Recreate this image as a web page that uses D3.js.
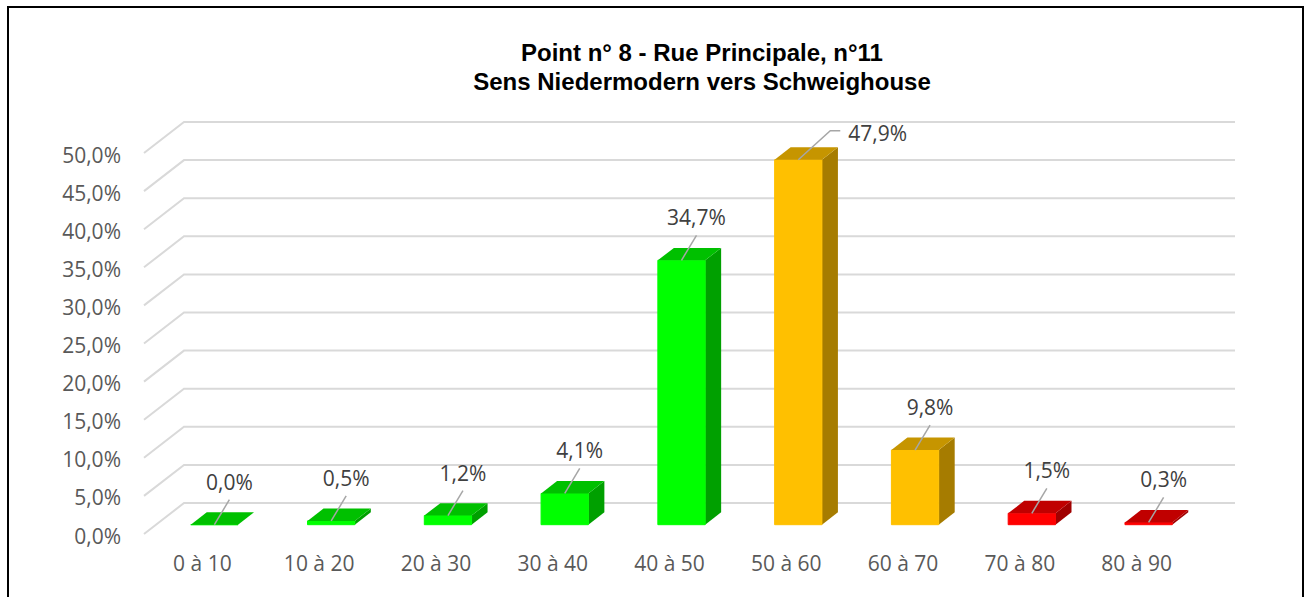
<!DOCTYPE html>
<html><head><meta charset="utf-8">
<script src="https://cdn.jsdelivr.net/npm/d3@7"></script>
<style>body{margin:0;background:#fff;} svg{display:block;}</style>
</head><body><svg id="chart" width="1309" height="597"></svg>
<script>
const titleLines = ["Point n° 8 - Rue Principale, n°11", "Sens Niedermodern vers Schweighouse"];
const categories = ["0 à 10","10 à 20","20 à 30","30 à 40","40 à 50","50 à 60","60 à 70","70 à 80","80 à 90"];
const values = [0.0, 0.5, 1.2, 4.1, 34.7, 47.9, 9.8, 1.5, 0.3];
const yTicks = [0, 5, 10, 15, 20, 25, 30, 35, 40, 45, 50];
const colorGroups = ["green","green","green","green","green","gold","gold","red","red"];
const palette = {
  green: {front:"#00ff00", top:"#00c000", side:"#00a000"},
  gold:  {front:"#ffc000", top:"#c69500", side:"#a67c00"},
  red:   {front:"#ff0000", top:"#c00000", side:"#a00000"}
};

const svg = d3.select("#chart");
const locale = d3.formatLocale({decimal:",", thousands:" ", grouping:[3], currency:["","€"]});
const fmt = v => locale.format(".1f")(v) + "%";

svg.append("rect").attr("x",8).attr("y",7).attr("width",1295).attr("height",600)
  .attr("fill","#fff").attr("stroke","#000").attr("stroke-width",2);

const depthX = 40, depthY = 31;
const x = d3.scaleBand().domain(categories).range([144, 1195]);
const y = d3.scaleLinear().domain([0, 50]).range([503, 122]);
const yFront = y.copy().range([503 + depthY, 122 + depthY]);
const proj = (xf, v, d) => [xf + depthX * d, y(v) + depthY * (1 - d)];

// gridlines (back wall + side wall)
const grid = svg.append("g").attr("stroke","#d9d9d9").attr("stroke-width",2).attr("fill","none");
yTicks.forEach(t => {
  const a = proj(x.range()[0], t, 0), b = proj(x.range()[0], t, 1), c = proj(x.range()[1], t, 1);
  grid.append("polyline").attr("points", [a, b, c].map(p => p.join(",")).join(" "));
});

// title
svg.append("g").selectAll("text").data(titleLines).join("text")
  .attr("x", 702).attr("y", (d, i) => 61 + i * 29)
  .attr("text-anchor","middle")
  .style("font-family","'Liberation Sans', Arial, sans-serif")
  .style("font-weight","bold").style("font-size","24px").attr("fill","#000")
  .text(d => d);

// y axis
const yAxis = svg.append("g").attr("transform", `translate(${x.range()[0]},0)`)
  .call(d3.axisLeft(yFront).tickValues(yTicks).tickSize(0).tickPadding(23).tickFormat(fmt));
yAxis.select(".domain").remove();
yAxis.selectAll("text").attr("dy","0.43em")
  .style("font-family","'Open Sans', sans-serif").style("font-size","21px").attr("fill","#595959");

// x axis
const xAxis = svg.append("g").attr("transform", `translate(0,${503 + depthY})`)
  .call(d3.axisBottom(x).tickSize(0).tickPadding(22));
xAxis.select(".domain").remove();
xAxis.selectAll("text")
  .style("font-family","'Open Sans', sans-serif").style("font-size","21px").attr("fill","#595959");

// bars
const d0 = 0.3, d1 = 0.7;
const bars = svg.append("g");
const labels = svg.append("g");
categories.forEach((cat, i) => {
  const v = values[i];
  const col = palette[colorGroups[i]];
  const w = x.bandwidth() * 0.405;
  const xc = x(cat) + x.bandwidth() / 2;
  const xl = xc - w / 2, xr = xc + w / 2;
  const poly = pts => pts.map(p => p.join(",")).join(" ");
  const g = bars.append("g");
  g.append("polygon").attr("points", poly([proj(xr,0,d0), proj(xr,0,d1), proj(xr,v,d1), proj(xr,v,d0)]))
    .attr("fill", col.side);
  g.append("polygon").attr("points", poly([proj(xl,0,d0), proj(xr,0,d0), proj(xr,v,d0), proj(xl,v,d0)]))
    .attr("fill", col.front).attr("stroke", col.front).attr("stroke-width", 1);
  g.append("polygon").attr("points", poly([proj(xl,v,d0), proj(xr,v,d0), proj(xr,v,d1), proj(xl,v,d1)]))
    .attr("fill", col.top);

  // data label with leader line
  const [ax, ay] = proj(xc, v, d0);
  const lab = labels.append("g");
  const lineStyle = sel => sel.attr("fill","none").attr("stroke","#a6a6a6").attr("stroke-width",1.5);
  const txt = lab.append("text").text(fmt(v))
    .style("font-family","'Open Sans', sans-serif").style("font-size","21px").attr("fill","#404040");
  if (ay - 45 < y.range()[1]) {
    lab.append("polyline").attr("points", poly([[ax, ay], [ax + 32, ay - 29], [ax + 42, ay - 29]])).call(lineStyle);
    txt.attr("x", ax + 50).attr("y", ay - 19).attr("text-anchor","start");
  } else {
    lab.append("line").attr("x1", ax).attr("y1", ay).attr("x2", ax + 15).attr("y2", ay - 25).call(lineStyle);
    txt.attr("x", ax + 15).attr("y", ay - 35).attr("text-anchor","middle");
  }
});
</script></body></html>
